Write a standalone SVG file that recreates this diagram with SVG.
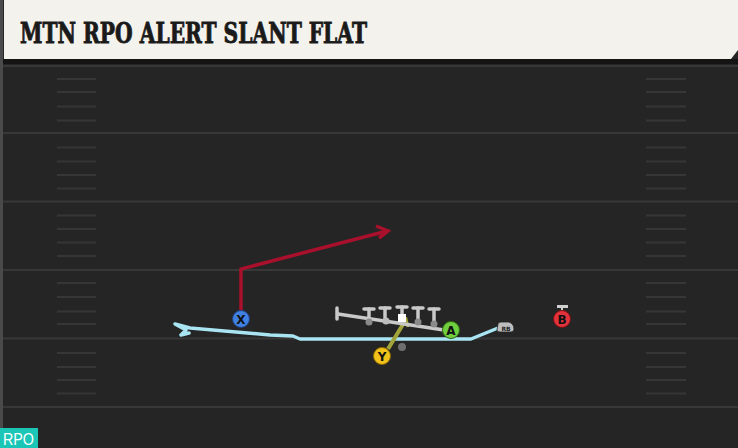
<svg xmlns="http://www.w3.org/2000/svg" width="738" height="448" viewBox="0 0 738 448">
<defs>
<style>
.yl{stroke:#383838;stroke-width:2}
.hs{stroke:#363636;stroke-width:2}
.lbl{font-family:"DejaVu Sans","Liberation Sans",sans-serif;font-weight:bold;font-size:12px;text-anchor:middle;fill:#111}
.ol{stroke:#c9c9c9;stroke-width:3.5;fill:none;stroke-linecap:round}
</style>
</defs>
<rect x="0" y="0" width="738" height="448" fill="#252525"/>
<rect x="0" y="59" width="738" height="5" fill="#141414"/>
<rect x="0" y="0" width="3" height="448" fill="#4a4a4a"/>
<g id="field">
<line class="yl" x1="3" y1="66" x2="738" y2="66"/>
<line class="yl" x1="3" y1="133" x2="738" y2="133"/>
<line class="yl" x1="3" y1="201.5" x2="738" y2="201.5"/>
<line class="yl" x1="3" y1="270" x2="738" y2="270"/>
<line class="yl" x1="3" y1="338.5" x2="738" y2="338.5"/>
<line class="yl" x1="3" y1="407" x2="738" y2="407"/>
<g id="hashes-left">
<line class="hs" x1="57" y1="79" x2="96" y2="79"/><line class="hs" x1="57" y1="92" x2="96" y2="92"/><line class="hs" x1="57" y1="106.5" x2="96" y2="106.5"/><line class="hs" x1="57" y1="120.5" x2="96" y2="120.5"/>
<line class="hs" x1="57" y1="147.5" x2="96" y2="147.5"/><line class="hs" x1="57" y1="161.5" x2="96" y2="161.5"/><line class="hs" x1="57" y1="175" x2="96" y2="175"/><line class="hs" x1="57" y1="188.5" x2="96" y2="188.5"/>
<line class="hs" x1="57" y1="215.5" x2="96" y2="215.5"/><line class="hs" x1="57" y1="229" x2="96" y2="229"/><line class="hs" x1="57" y1="242.5" x2="96" y2="242.5"/><line class="hs" x1="57" y1="256" x2="96" y2="256"/>
<line class="hs" x1="57" y1="283" x2="96" y2="283"/><line class="hs" x1="57" y1="297" x2="96" y2="297"/><line class="hs" x1="57" y1="311.5" x2="96" y2="311.5"/><line class="hs" x1="57" y1="324" x2="96" y2="324"/>
<line class="hs" x1="57" y1="353" x2="96" y2="353"/><line class="hs" x1="57" y1="367" x2="96" y2="367"/><line class="hs" x1="57" y1="380" x2="96" y2="380"/><line class="hs" x1="57" y1="393.5" x2="96" y2="393.5"/>
</g>
<g id="hashes-right">
<line class="hs" x1="646" y1="79" x2="686" y2="79"/><line class="hs" x1="646" y1="92" x2="686" y2="92"/><line class="hs" x1="646" y1="106.5" x2="686" y2="106.5"/><line class="hs" x1="646" y1="120.5" x2="686" y2="120.5"/>
<line class="hs" x1="646" y1="147.5" x2="686" y2="147.5"/><line class="hs" x1="646" y1="161.5" x2="686" y2="161.5"/><line class="hs" x1="646" y1="175" x2="686" y2="175"/><line class="hs" x1="646" y1="188.5" x2="686" y2="188.5"/>
<line class="hs" x1="646" y1="215.5" x2="686" y2="215.5"/><line class="hs" x1="646" y1="229" x2="686" y2="229"/><line class="hs" x1="646" y1="242.5" x2="686" y2="242.5"/><line class="hs" x1="646" y1="256" x2="686" y2="256"/>
<line class="hs" x1="646" y1="283" x2="686" y2="283"/><line class="hs" x1="646" y1="297" x2="686" y2="297"/><line class="hs" x1="646" y1="311.5" x2="686" y2="311.5"/><line class="hs" x1="646" y1="324" x2="686" y2="324"/>
<line class="hs" x1="646" y1="353" x2="686" y2="353"/><line class="hs" x1="646" y1="367" x2="686" y2="367"/><line class="hs" x1="646" y1="380" x2="686" y2="380"/><line class="hs" x1="646" y1="393.5" x2="686" y2="393.5"/>
</g>
</g>
<g id="title">
<polygon points="4,0 738,0 738,50 731,59 4,59" fill="#f4f2ec"/>
<text x="20" y="43" font-family="'DejaVu Serif','Liberation Serif',serif" font-weight="bold" font-size="27" fill="#1a1a1a" stroke="#1a1a1a" stroke-width="0.9" textLength="347" lengthAdjust="spacingAndGlyphs">MTN RPO ALERT SLANT FLAT</text>
</g>
<g id="connectors">
<path d="M498,328 L471,339 L300,339 L293,336 L270,335 L190,328 L175,324 L186,330 L181,335 L189,333" fill="none" stroke="#a8e4f2" stroke-width="3.5" stroke-linejoin="round" stroke-linecap="round"/>
<path d="M241,311 L241,269 L387,231" fill="none" stroke="#a8102c" stroke-width="3.5" stroke-linejoin="miter"/>
<path d="M376,226 L388,231 L379,238" fill="none" stroke="#a8102c" stroke-width="3.5" stroke-linejoin="miter"/>
<path d="M388,349 L405,321" fill="none" stroke="#a2a43a" stroke-width="4"/>
<path d="M398,323 L406,319 L408,327" fill="none" stroke="#a2a43a" stroke-width="3"/>
</g>
<g id="oline">
<line class="ol" x1="338" y1="314" x2="444" y2="330"/>
<line class="ol" x1="337" y1="308" x2="337" y2="319"/>
<line class="ol" x1="364" y1="309" x2="374" y2="309"/><line class="ol" x1="369" y1="309" x2="369" y2="319"/>
<line class="ol" x1="380" y1="308" x2="390" y2="308"/><line class="ol" x1="385" y1="308" x2="385" y2="320"/>
<line class="ol" x1="397" y1="307" x2="407" y2="307"/><line class="ol" x1="402" y1="307" x2="402" y2="318"/>
<line class="ol" x1="413" y1="308" x2="423" y2="308"/><line class="ol" x1="418" y1="308" x2="418" y2="322"/>
<line class="ol" x1="429" y1="309" x2="439" y2="309"/><line class="ol" x1="434" y1="309" x2="434" y2="324"/>
<circle cx="369" cy="322" r="3.5" fill="#8a8a8a"/>
<circle cx="386" cy="321" r="3.5" fill="#bdbdbd"/>
<circle cx="418" cy="322" r="3.5" fill="#8a8a8a"/>
<circle cx="434" cy="324" r="3.5" fill="#8a8a8a"/>
<rect x="398" y="314" width="8" height="8" fill="#ffffff"/>
</g>
<g id="dot"><circle cx="402" cy="347" r="4" fill="#6e6e6e"/></g>
<g id="X">
<circle cx="241" cy="319" r="8.5" fill="#3f80e0" stroke="#1f3f80" stroke-width="1"/>
<text class="lbl" x="241" y="323.5">X</text>
</g>
<g id="Y">
<circle cx="382" cy="356" r="8.5" fill="#f3c21a" stroke="#8a6a00" stroke-width="1"/>
<text class="lbl" x="382" y="360.5">Y</text>
</g>
<g id="A">
<circle cx="451" cy="330" r="8.5" fill="#70cf3e" stroke="#2f6a10" stroke-width="1"/>
<text class="lbl" x="451" y="334.5">A</text>
</g>
<g id="B">
<rect x="557" y="305" width="11" height="3" fill="#cfcfcf"/>
<line x1="562" y1="307" x2="562" y2="312" stroke="#cfcfcf" stroke-width="2"/>
<circle cx="562" cy="319" r="8.5" fill="#e2323c" stroke="#7a1010" stroke-width="1"/>
<text class="lbl" x="562" y="323.5">B</text>
</g>
<g id="RB">
<path d="M498,324 Q498,322 501,322 L509,322 Q514,324 514,329 Q514,332 511,332 L500,332 Q497,332 497,330 Z" fill="#bdbdbd" stroke="#222" stroke-width="0.8"/>
<text x="506" y="330.5" font-family="'DejaVu Sans','Liberation Sans',sans-serif" font-weight="bold" font-size="6" text-anchor="middle" fill="#222">RB</text>
</g>
<g id="badge">
<rect x="0" y="428" width="38" height="20" fill="#1cc6b6"/>
<text x="3" y="445" font-family="'Liberation Sans','DejaVu Sans',sans-serif" font-size="16" fill="#ffffff" textLength="31" lengthAdjust="spacingAndGlyphs">RPO</text>
</g>
</svg>
